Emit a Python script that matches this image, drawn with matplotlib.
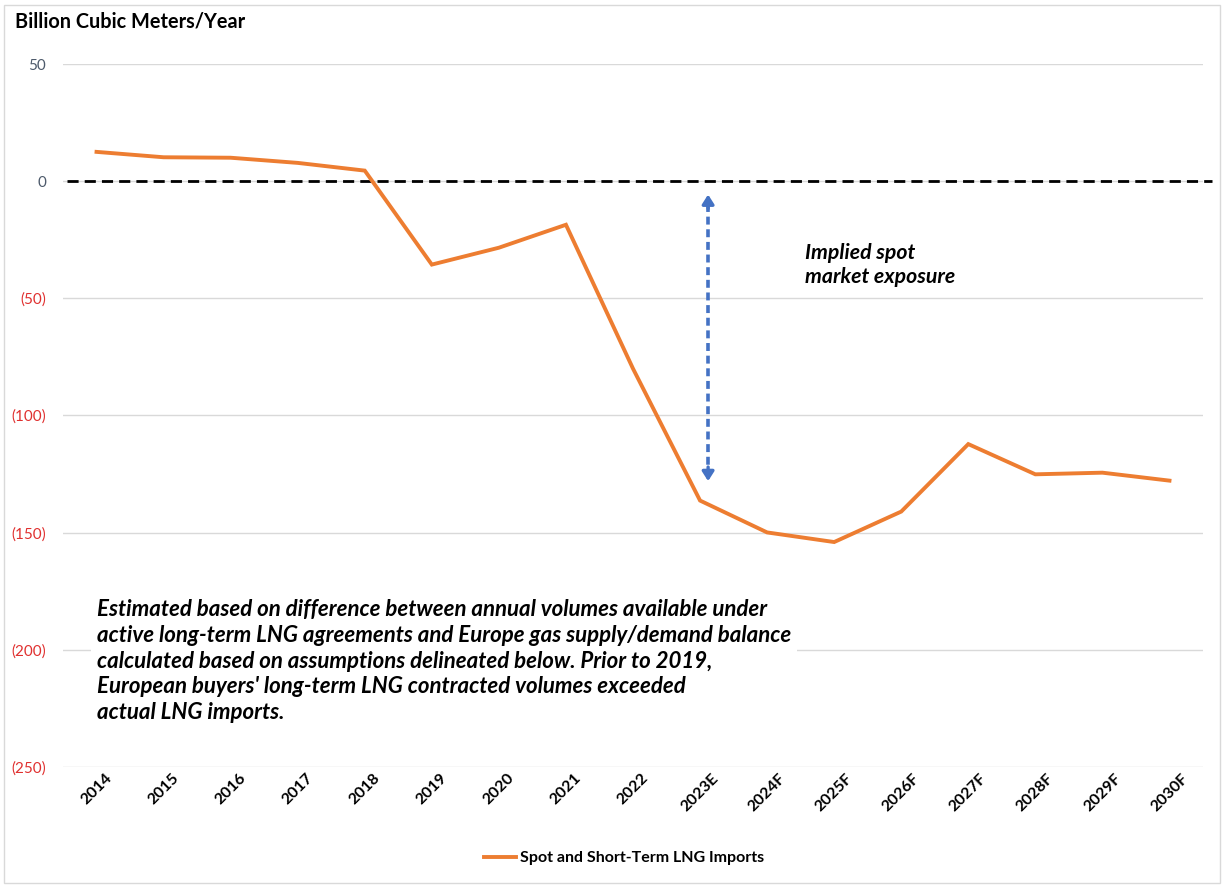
import matplotlib
matplotlib.use("Agg")
import matplotlib.pyplot as plt
from matplotlib.ticker import FuncFormatter, FixedLocator
from matplotlib.patches import Rectangle

plt.rcParams['font.family'] = ['Lato', 'DejaVu Sans']

years = ["2014", "2015", "2016", "2017", "2018", "2019", "2020", "2021", "2022",
         "2023E", "2024F", "2025F", "2026F", "2027F", "2028F", "2029F", "2030F"]
spot_imports = [12.5, 10.2, 10.0, 7.8, 4.5, -35.6, -28.4, -18.6, -80.0,
                -136.3, -149.9, -154.0, -141.0, -112.2, -125.1, -124.4, -127.8]
y_ticks = [50, 0, -50, -100, -150, -200, -250]
arrow_top, arrow_bottom = -5.7, -128.0

ORANGE = '#ED7D31'
BLUE = '#4472C4'

fig = plt.figure(figsize=(12.24, 8.86), dpi=100)
ax = fig.add_axes([63/1224, 1-767/886, (1203-63)/1224, (767-64)/886])

x = list(range(len(years)))
ax.plot(x, spot_imports, color=ORANGE, lw=2.8, solid_joinstyle='miter',
        label='Spot and Short-Term LNG Imports', zorder=4)

# zero dashed line
ax.plot([-0.44, 16.63], [0, 0], color='black', lw=2.0, ls=(0, (4.0, 2.2)),
        clip_on=False, zorder=3)

ax.set_xlim(-0.5, 16.5)
ax.set_ylim(-250, 50)
ax.yaxis.set_major_locator(FixedLocator(y_ticks))
ax.yaxis.set_major_formatter(FuncFormatter(
    lambda v, p: f"({abs(int(v))})" if v < 0 else f"{int(v)}"))
ax.grid(axis='y', color='#d9d9d9', lw=1.0)
ax.set_axisbelow(True)
for s in ax.spines.values():
    s.set_visible(False)
ax.tick_params(axis='both', length=0)
ax.tick_params(axis='y', pad=12, labelsize=11)
for lbl in ax.get_yticklabels():
    txt = lbl.get_text()
    lbl.set_color('#e0302f' if txt.startswith('(') else '#4d5a6b')

ax.set_xticks(x)
ax.set_xticklabels(years, rotation=45, ha='center', fontweight='bold', fontsize=11.5)
ax.tick_params(axis='x', pad=3)

# blue dashed double arrow
ax_x = 9.12
ax.plot([ax_x, ax_x], [arrow_top - 4, arrow_bottom + 4], color=BLUE, lw=2.6,
        ls=(0, (2.2, 1.3)), zorder=5)
ax.annotate('', xy=(ax_x, arrow_top), xytext=(ax_x, arrow_top - 6),
            arrowprops=dict(arrowstyle='-|>,head_length=0.55,head_width=0.35',
                            color=BLUE, lw=2.4, shrinkA=0, shrinkB=0), zorder=5)
ax.annotate('', xy=(ax_x, arrow_bottom), xytext=(ax_x, arrow_bottom + 6),
            arrowprops=dict(arrowstyle='-|>,head_length=0.55,head_width=0.35',
                            color=BLUE, lw=2.4, shrinkA=0, shrinkB=0), zorder=5)

fig.text(805/1224, 1-265/886, "Implied spot\nmarket exposure", fontsize=15.3,
         fontweight='bold', fontstyle='italic', ha='left', va='center',
         linespacing=1.3, color='black')

note = ("Estimated based on difference between annual volumes available under\n"
        "active long-term LNG agreements and Europe gas supply/demand balance\n"
        "calculated based on assumptions delineated below. Prior to 2019,\n"
        "European buyers' long-term LNG contracted volumes exceeded\n"
        "actual LNG imports.")
fig.text(97/1224, 1-661/886, note, fontsize=16, fontweight='bold',
         fontstyle='italic', ha='left', va='center', linespacing=1.29,
         color='black',
         bbox=dict(facecolor='white', edgecolor='none', pad=4))

fig.text(15/1224, 1-22/886, "Billion Cubic Meters/Year", fontsize=14.3,
         fontweight='bold', ha='left', va='center', color='black')

leg = fig.legend(loc='center', bbox_to_anchor=(624/1224, 1-858/886), frameon=False,
                 prop={'weight': 'bold', 'size': 11.5}, handlelength=2.0,
                 handletextpad=0.2)

fig.patches.append(Rectangle((4/1224, 3/886), 1216/1224, 878/886,
                             transform=fig.transFigure, fill=False,
                             edgecolor='#d9d9d9', lw=1.0))

fig.savefig('out.png', dpi=100, facecolor='white')
